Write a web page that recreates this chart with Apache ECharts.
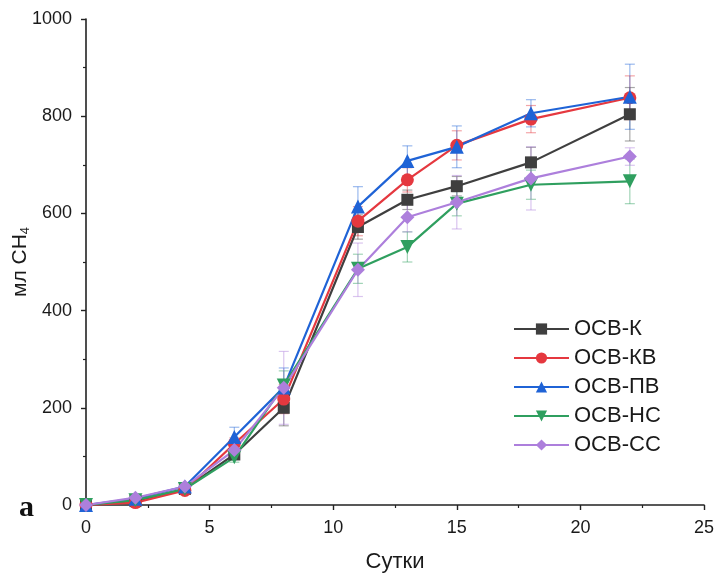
<!DOCTYPE html>
<html><head><meta charset="utf-8">
<script src="https://cdn.jsdelivr.net/npm/echarts@6/dist/echarts.min.js"></script>
<style>html,body{margin:0;padding:0;background:#fff}#c{width:716px;height:580px}</style>
</head><body><div id="c"></div>
<script>
const days = [0, 2, 4, 6, 8, 11, 13, 15, 18, 22];
const seriesNames = ['ОСВ-К', 'ОСВ-КВ', 'ОСВ-ПВ', 'ОСВ-НС', 'ОСВ-СС'];
const valK  = [0, 8, 33, 104, 200, 572, 628, 656, 705, 804];
const valKB = [0, 5, 30, 126, 218, 584, 669, 740, 794, 838];
const valPB = [0, 13, 38, 140, 242, 614, 708, 737, 806, 840];
const valNS = [0, 10, 33, 98, 246, 486, 531, 620, 659, 666];
const valSS = [0, 15, 38, 113, 241, 484, 592, 623, 672, 717];
const errK  = [0, 3, 5, 10, 37, 25, 20, 20, 31, 55];
const errKB = [0, 3, 5, 12, 30, 30, 25, 30, 28, 45];
const errPB = [0, 4, 6, 20, 40, 41, 31, 43, 28, 67];
const errNS = [0, 3, 5, 10, 30, 30, 31, 25, 30, 46];
const errSS = [0, 4, 6, 12, 75, 55, 30, 55, 65, 18];
const xTicks = [0, 5, 10, 15, 20, 25];
const yTicks = [0, 200, 400, 600, 800, 1000];

const colors = ['#3f3f3f', '#e5383f', '#1f63d6', '#2f9f5f', '#ad7fdc'];
const symbols = ['rect', 'circle', 'triangle', 'triangle', 'diamond'];
const rotates = [0, 0, 0, 180, 0];
const sizes = [12, 13, 14, 14, 14];
const vals = [valK, valKB, valPB, valNS, valSS];
const errs = [errK, errKB, errPB, errNS, errSS];

function errSeries(v, e, color) {
  return {
    type: 'custom', silent: true, z: 1,
    data: days.map((d, i) => [d, v[i] - e[i], v[i] + e[i]]),
    encode: { x: 0, y: [1, 2] },
    renderItem(params, api) {
      const x = api.value(0);
      const lo = api.coord([x, api.value(1)]);
      const hi = api.coord([x, api.value(2)]);
      const w = 5;
      const st = { stroke: color, lineWidth: 1.2, opacity: 0.45 };
      return { type: 'group', children: [
        { type: 'line', shape: { x1: lo[0], y1: lo[1], x2: hi[0], y2: hi[1] }, style: st },
        { type: 'line', shape: { x1: lo[0] - w, y1: lo[1], x2: lo[0] + w, y2: lo[1] }, style: st },
        { type: 'line', shape: { x1: hi[0] - w, y1: hi[1], x2: hi[0] + w, y2: hi[1] }, style: st }
      ]};
    }
  };
}

const series = [];
vals.forEach((v, k) => series.push(errSeries(v, errs[k], colors[k])));
vals.forEach((v, k) => series.push({
  name: seriesNames[k], type: 'line', z: 3,
  data: days.map((d, i) => [d, v[i]]),
  symbol: symbols[k], symbolRotate: rotates[k], symbolSize: sizes[k],
  showAllSymbol: true,
  lineStyle: { color: colors[k], width: 2.2 },
  itemStyle: { color: colors[k] },
  emphasis: { disabled: true }
}));

const FF = 'Liberation Sans, Arial, sans-serif';
const axisFont = { fontFamily: FF, fontSize: 18, color: '#1a1a1a' };
const chart = echarts.init(document.getElementById('c'));
chart.setOption({
  animation: false,
  backgroundColor: '#fff',
  grid: { left: 86, right: 12, top: 19, bottom: 75, containLabel: false, outerBoundsMode: 'none' },
  legend: {
    data: seriesNames, orient: 'vertical', left: 508, top: 313,
    itemWidth: 55, itemHeight: 14, itemGap: 7,
    textStyle: { fontFamily: FF, fontSize: 22, color: '#1a1a1a' }
  },
  xAxis: {
    type: 'value', min: 0, max: 25, interval: 5,
    name: 'Сутки', nameLocation: 'middle', nameGap: 46,
    nameTextStyle: { fontFamily: FF, fontSize: 22, color: '#1a1a1a' },
    axisLine: { lineStyle: { color: '#222', width: 1.6 } },
    axisTick: { inside: false, length: 5, lineStyle: { color: '#222', width: 1.4 } },
    minorTick: { show: true, splitNumber: 2, length: 3, lineStyle: { color: '#222', width: 1.2 } },
    splitLine: { show: false },
    axisLabel: Object.assign({ margin: 14, formatter: v => xTicks.includes(v) ? String(v) : '' }, axisFont)
  },
  yAxis: {
    type: 'value', min: 0, max: 1000, interval: 200,
    name: '{a|мл CH}{b|4}', nameLocation: 'middle', nameGap: 54, nameMoveOverlap: false,
    nameTextStyle: { rich: {
      a: { fontFamily: FF, fontSize: 21, color: '#1a1a1a' },
      b: { fontFamily: FF, fontSize: 13, color: '#1a1a1a', padding: [11, 0, 0, 0] }
    } },
    axisLine: { show: true, lineStyle: { color: '#222', width: 1.6 } },
    axisTick: { show: true, inside: false, length: 5, lineStyle: { color: '#222', width: 1.4 } },
    minorTick: { show: true, splitNumber: 2, length: 3, lineStyle: { color: '#222', width: 1.2 } },
    splitLine: { show: false },
    axisLabel: Object.assign({ margin: 14, formatter: v => yTicks.includes(v) ? String(v) : '' }, axisFont)
  },
  graphic: [{
    type: 'text', left: 19, top: 493,
    style: { text: 'a', font: 'bold 30px "Liberation Serif", "Times New Roman", serif', fill: '#111' }
  }],
  series
});
</script>
</body></html>
